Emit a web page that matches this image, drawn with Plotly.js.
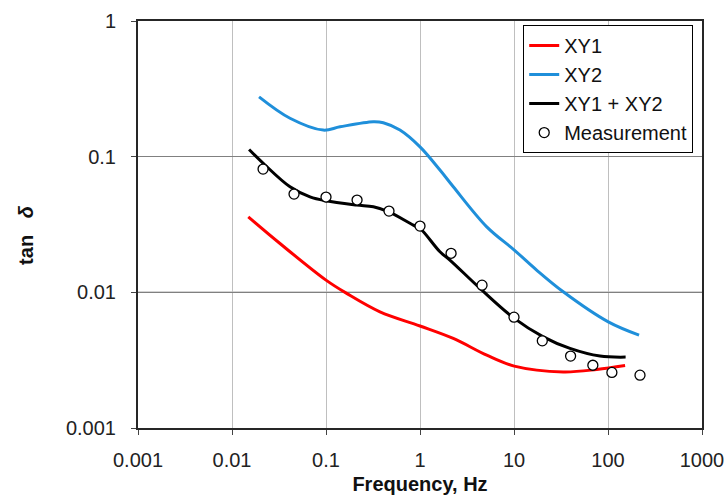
<!DOCTYPE html>
<html>
<head>
<meta charset="utf-8">
<script src="https://cdn.plot.ly/plotly-3.0.1.min.js"></script>
<style>html,body{margin:0;padding:0;background:#fff;}#chart{width:728px;height:495px;}</style>
</head>
<body>
<div id="chart"></div>
<script>
// XY1 model curve
const xy1Freq = [0.0149, 0.0324, 0.1, 0.166, 0.375, 1, 2.26, 5.13, 10.07, 33.4, 75.9, 152];
const xy1Tan  = [0.0360, 0.0229, 0.0123, 0.00982, 0.00718, 0.00565, 0.00457, 0.00344, 0.00286, 0.00259, 0.00270, 0.00289];
// XY2 model curve
const xy2Freq = [0.0194, 0.0414, 0.0935, 0.141, 0.318, 0.407, 0.612, 1, 1.63, 2.26, 5.13, 10.07, 17.4, 33.4, 100.7, 214];
const xy2Tan  = [0.276, 0.192, 0.157, 0.166, 0.181, 0.178, 0.157, 0.118, 0.0797, 0.060, 0.0304, 0.0205, 0.0146, 0.0101, 0.00606, 0.00484];
// XY1 + XY2 sum curve
const sumFreq = [0.0152, 0.0215, 0.0414, 0.0676, 0.1, 0.212, 0.319, 0.46, 0.849, 1, 1.63, 2.08, 4.35, 10.07, 20.5, 39.4, 82.2, 154];
const sumTan  = [0.113, 0.0893, 0.060, 0.0506, 0.0473, 0.0440, 0.0427, 0.0393, 0.0313, 0.0296, 0.0199, 0.0173, 0.0107, 0.00643, 0.00470, 0.00386, 0.00339, 0.00333];
// Measurement points
const measFreq = [0.0214, 0.0457, 0.1, 0.214, 0.468, 1, 2.14, 4.57, 10, 20, 40, 69, 110, 219];
const measTan  = [0.081, 0.053, 0.0504, 0.0479, 0.0397, 0.0308, 0.0194, 0.0113, 0.00656, 0.00439, 0.00339, 0.0029, 0.00257, 0.00245];
// Tick labels
const xTickVals = [0.001, 0.01, 0.1, 1, 10, 100, 1000];
const xTickText = ['0.001', '0.01', '0.1', '1', '10', '100', '1000'];
const yTickVals = [0.001, 0.01, 0.1, 1];
const yTickText = ['0.001', '0.01', '0.1', '1'];

const FONT = 'Liberation Sans, Arial, sans-serif';

const traces = [
  {x: xy1Freq, y: xy1Tan, name: 'XY1', mode: 'lines', line: {color: '#ff0000', width: 3, shape: 'spline', smoothing: 1}},
  {x: xy2Freq, y: xy2Tan, name: 'XY2', mode: 'lines', line: {color: '#1f8fda', width: 3, shape: 'spline', smoothing: 1}},
  {x: sumFreq, y: sumTan, name: 'XY1 + XY2', mode: 'lines', line: {color: '#000000', width: 3, shape: 'spline', smoothing: 1}},
  {x: measFreq, y: measTan, name: 'Measurement', mode: 'markers',
   marker: {symbol: 'circle', size: 10, color: '#ffffff', line: {color: '#000000', width: 1.3}}}
];

const layout = {
  width: 728, height: 495,
  margin: {l: 138, r: 26, t: 21, b: 67},
  paper_bgcolor: '#ffffff', plot_bgcolor: '#ffffff',
  font: {family: FONT, size: 20, color: '#222222'},
  showlegend: true,
  legend: {
    x: 0.683, y: 0.99, xanchor: 'left', yanchor: 'top',
    bgcolor: '#ffffff', bordercolor: '#000000', borderwidth: 1,
    font: {family: FONT, size: 20, color: '#111111'},
    tracegroupgap: 0, itemwidth: 30
  },
  xaxis: {
    type: 'log', range: [-3, 3],
    tickvals: xTickVals, ticktext: xTickText,
    ticks: 'outside', ticklen: 5, tickcolor: '#444',
    showgrid: true, gridcolor: '#bfbfbf', gridwidth: 1,
    showline: true, linecolor: '#262626', linewidth: 2, mirror: true,
    zeroline: false, ticklabelstandoff: 8,
    tickfont: {family: FONT, size: 20, color: '#222222'},
    title: {text: '<b>Frequency, Hz</b>', font: {family: FONT, size: 20, color: '#111111'}, standoff: 10}
  },
  yaxis: {
    type: 'log', range: [-3, 0],
    tickvals: yTickVals, ticktext: yTickText,
    ticks: 'outside', ticklen: 5, tickcolor: '#444',
    showgrid: true, gridcolor: '#808080', gridwidth: 1,
    showline: true, linecolor: '#262626', linewidth: 2, mirror: true,
    zeroline: false, ticklabelstandoff: 11,
    tickfont: {family: FONT, size: 20, color: '#222222'}
  },
  shapes: [
    {type: 'line', xref: 'paper', x0: 0, x1: 1, yref: 'y', y0: 0.01, y1: 0.01, layer: 'below', line: {color: '#000000', width: 1}}
  ],
  annotations: [
    {text: '<b>tan\u00A0\u00A0 <i>δ</i></b>', xref: 'paper', yref: 'paper', x: -0.2, y: 0.475,
     xanchor: 'center', yanchor: 'middle', textangle: -90, showarrow: false,
     font: {family: FONT, size: 20, color: '#111111'}}
  ]
};

Plotly.newPlot('chart', traces, layout, {staticPlot: true, displayModeBar: false});
</script>
</body>
</html>
